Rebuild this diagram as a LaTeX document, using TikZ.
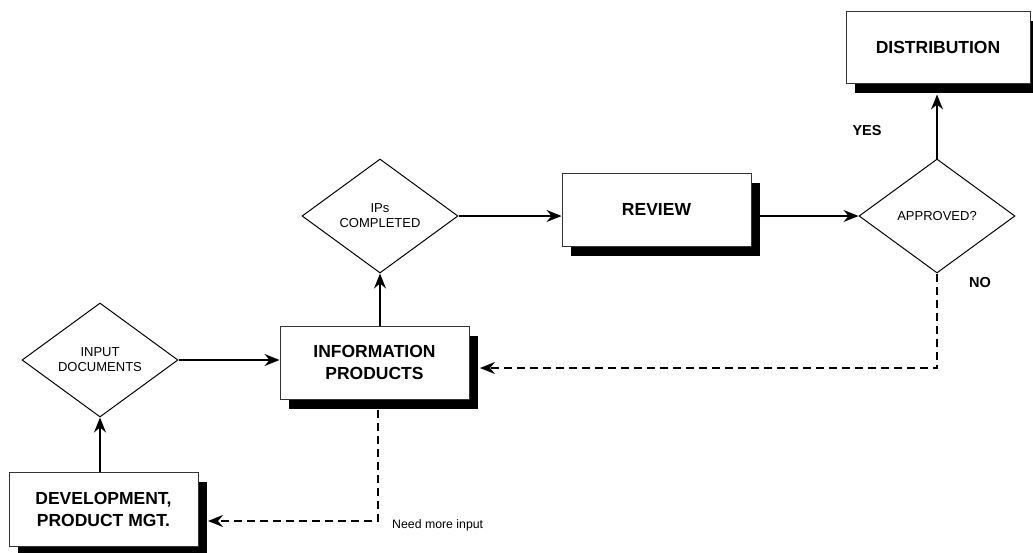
\documentclass[tikz,border=0pt]{standalone}
\usepackage{fontspec}
\setmainfont{Liberation Sans}
\usetikzlibrary{shapes.geometric,arrows.meta,shadows,calc}
\begin{document}
\begin{tikzpicture}[x=1pt,y=-1pt,
  stepbox/.style={draw=black!80,line width=1pt,fill=white,inner sep=0pt,align=center,
    font=\fontsize{17.5}{22}\selectfont\bfseries,
    drop shadow={shadow xshift=9pt,shadow yshift=-10pt,fill=black,opacity=1}},
  decision/.style={diamond,draw=black,line width=1pt,fill=white,inner sep=0pt,align=center,
    minimum width=156pt,minimum height=114pt,font=\fontsize{13}{15}\selectfont},
  flow/.style={line width=1.3pt,-{Stealth[length=15pt,width=12pt,inset=5pt]}},
  loop/.style={flow,line width=2pt,dash pattern=on 8pt off 5pt},
  answer/.style={font=\fontsize{14.5}{17}\selectfont\bfseries,inner sep=0pt},
  note/.style={font=\fontsize{12.3}{14}\selectfont,anchor=west,inner sep=0pt}]
\useasboundingbox (0,0) rectangle (1033,552);

% process boxes
\node[stepbox,minimum width=184pt,minimum height=72pt] (dist) at (938,47) {DISTRIBUTION};
\node[stepbox,minimum width=189pt,minimum height=73pt] (review) at (656.5,209.5) {REVIEW};
\node[stepbox,minimum width=189pt,minimum height=73pt] (info) at (374.5,362.5) {INFORMATION\\PRODUCTS};
\node[stepbox,minimum width=189pt,minimum height=74pt] (dev) at (103.5,509) {DEVELOPMENT,\\PRODUCT MGT.};

% decisions
\node[decision] (ips) at (380,216) {IPs\\COMPLETED};
\node[decision] (approved) at (937,216) {APPROVED?};
\node[decision] (input) at (100,360) {INPUT\\DOCUMENTS};

% labels
\node[answer] (yes) at (867,131) {YES};
\node[answer] (no) at (980,283) {NO};
\node[note] (more) at (392,525) {Need more input};

% main flow
\draw[flow] (input.east) -- (input.east -| info.west);
\draw[flow] (input.south |- dev.north) -- (input.south);
\draw[flow] (ips.south |- info.north) -- (ips.south);
\draw[flow] (ips.east) -- (ips.east -| review.west);
\draw[flow] (approved.west -| review.east) -- (approved.west);
\draw[flow] (approved.north) -- ($(approved.north |- dist.south)+(0,-11pt)$);

% return paths
\coordinate (backin) at (480,368);
\draw[loop] (approved.south) |- (backin);
\coordinate (down) at (378,410);
\coordinate (devin) at (208,521);
\draw[loop] (down) |- (devin);
\end{tikzpicture}
\end{document}
